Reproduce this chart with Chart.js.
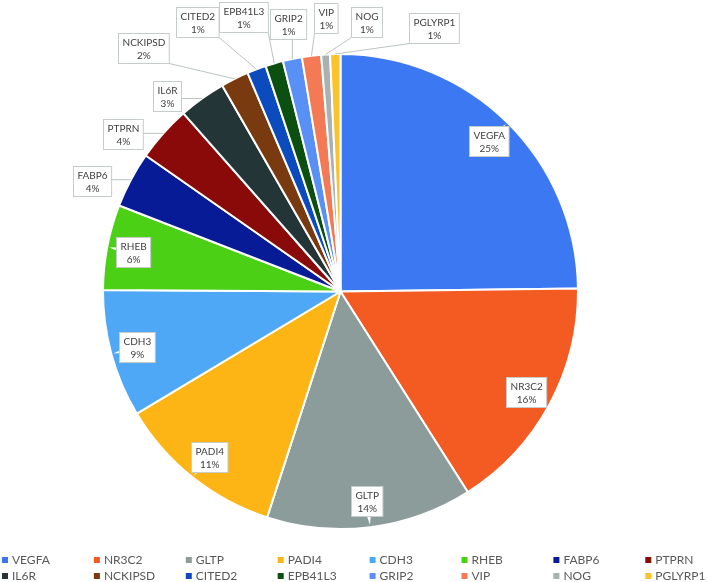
<!DOCTYPE html>
<html lang="en">
<head>
    <meta charset="UTF-8">
    <script src="https://cdn.jsdelivr.net/npm/chart.js"></script>
    <style>
        body { margin: 0; padding: 0; background: #ffffff; }
        #wrap { width: 707px; height: 582px; position: relative; }
    </style>
</head>
<body>
    <div id="wrap"><canvas id="pieChart" width="707" height="582"></canvas></div>
    <script>
        // data (share of total, %)
        const genes = ['VEGFA', 'NR3C2', 'GLTP', 'PADI4', 'CDH3', 'RHEB', 'FABP6', 'PTPRN',
                       'IL6R', 'NCKIPSD', 'CITED2', 'EPB41L3', 'GRIP2', 'VIP', 'NOG', 'PGLYRP1'];
        const shares = [24.8, 16.2, 14.0, 11.4, 8.7, 5.8, 3.8, 3.8,
                        3.2, 1.9, 1.3, 1.2, 1.3, 1.3, 0.6, 0.7];
        const colors = ['#3b78f2', '#f35b22', '#8c9c9a', '#fcb514', '#4fa8f5', '#4bd016', '#071b96', '#8a0a0a',
                        '#243538', '#7a3a10', '#0b4bbd', '#0b5010', '#5890f5', '#f47a55', '#a8b2b2', '#fcc229'];

        // callout placement for the small slices: [angle from top (deg), gap beyond the rim (px)]
        const outsideLabels = {
            6: [294, 35], 7: [306, 31], 8: [318.5, 24], 9: [321, 76], 10: [332, 68],
            11: [340.5, 54], 12: [349, 35], 13: [357, 36], 14: [5.5, 33], 15: [19.5, 42]
        };

        const labelFont = '10px Lato, "DejaVu Sans", sans-serif';

        function drawBox(ctx, cx, cy, lines) {
            ctx.font = labelFont;
            const w = Math.max(...lines.map(t => ctx.measureText(t).width)) + 8;
            const h = 30;
            const x = Math.round(cx - w / 2) + 0.5, y = Math.round(cy - h / 2) + 0.5;
            return { x, y, w, h };
        }

        function paintBox(ctx, b, lines) {
            ctx.fillStyle = '#ffffff';
            ctx.fillRect(b.x, b.y, b.w, b.h);
            ctx.strokeStyle = '#c6cbcb';
            ctx.lineWidth = 1;
            ctx.strokeRect(b.x, b.y, b.w, b.h);
            ctx.fillStyle = '#404040';
            ctx.textAlign = 'center';
            ctx.textBaseline = 'middle';
            ctx.fillText(lines[0], b.x + b.w / 2, b.y + 9);
            ctx.fillText(lines[1], b.x + b.w / 2, b.y + 22);
        }

        const calloutPlugin = {
            id: 'callouts',
            afterDatasetsDraw(chart) {
                const ctx = chart.ctx;
                const meta = chart.getDatasetMeta(0);
                const total = shares.reduce((a, b) => a + b, 0);
                ctx.save();
                meta.data.forEach((arc, i) => {
                    const p = arc.getProps(['x', 'y', 'startAngle', 'endAngle', 'outerRadius'], true);
                    const mid = (p.startAngle + p.endAngle) / 2;
                    const r = p.outerRadius;
                    const lines = [genes[i], Math.round(shares[i] / total * 100) + '%'];
                    const rimX = p.x + Math.cos(mid) * r, rimY = p.y + Math.sin(mid) * r;
                    if (outsideLabels[i]) {
                        const a = (outsideLabels[i][0] - 90) * Math.PI / 180;
                        const d = r + outsideLabels[i][1];
                        const cx = p.x + Math.cos(a) * d, cy = p.y + Math.sin(a) * d;
                        const b = drawBox(ctx, cx, cy, lines);
                        const ex = Math.min(Math.max(rimX, b.x), b.x + b.w);
                        const ey = Math.min(Math.max(rimY, b.y), b.y + b.h);
                        ctx.strokeStyle = '#bcc3c3';
                        ctx.lineWidth = 1;
                        ctx.beginPath();
                        ctx.moveTo(rimX, rimY);
                        ctx.lineTo(ex, ey);
                        ctx.stroke();
                        paintBox(ctx, b, lines);
                    } else {
                        const d = r * 0.89;
                        const cx = p.x + Math.cos(mid) * d, cy = p.y + Math.sin(mid) * d;
                        const b = drawBox(ctx, cx, cy, lines);
                        // small pointer toward the rim
                        const ang = Math.atan2(rimY - cy, rimX - cx);
                        const tip = Math.min(Math.hypot(rimX - cx, rimY - cy), 24);
                        ctx.fillStyle = '#ffffff';
                        ctx.beginPath();
                        ctx.moveTo(cx + Math.cos(ang + Math.PI / 2) * 5, cy + Math.sin(ang + Math.PI / 2) * 5);
                        ctx.lineTo(cx + Math.cos(ang) * tip, cy + Math.sin(ang) * tip);
                        ctx.lineTo(cx + Math.cos(ang - Math.PI / 2) * 5, cy + Math.sin(ang - Math.PI / 2) * 5);
                        ctx.closePath();
                        ctx.fill();
                        paintBox(ctx, b, lines);
                    }
                });
                ctx.restore();
            },
            afterDraw(chart) {
                // legend: 2 rows x 8 columns
                const ctx = chart.ctx;
                ctx.save();
                ctx.font = '12px Lato, "DejaVu Sans", sans-serif';
                ctx.textAlign = 'left';
                ctx.textBaseline = 'middle';
                genes.forEach((g, i) => {
                    const col = i % 8, row = Math.floor(i / 8);
                    const x = 2 + col * 91.9, y = 560 + row * 16;
                    ctx.fillStyle = colors[i];
                    ctx.fillRect(x, y - 3, 6, 6);
                    ctx.fillStyle = '#595959';
                    ctx.fillText(g, x + 10, y);
                });
                ctx.restore();
            }
        };

        new Chart(document.getElementById('pieChart'), {
            type: 'pie',
            data: {
                labels: genes,
                datasets: [{
                    data: shares,
                    backgroundColor: colors,
                    borderColor: '#ffffff',
                    borderWidth: 2
                }]
            },
            options: {
                responsive: false,
                animation: false,
                layout: { padding: { left: 0, right: 26, top: 53, bottom: 52 } },
                plugins: {
                    legend: { display: false },
                    tooltip: { enabled: false }
                }
            },
            plugins: [calloutPlugin]
        });
    </script>
</body>
</html>
